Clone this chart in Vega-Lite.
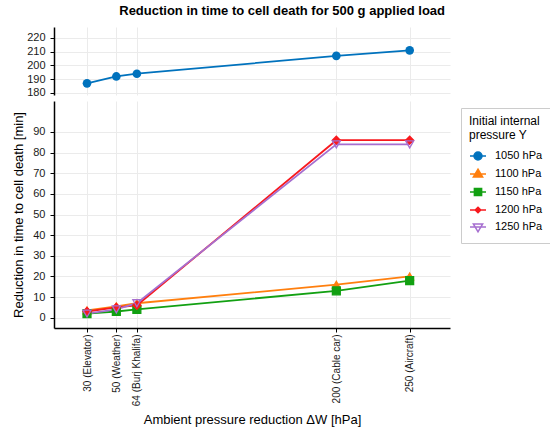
{
  "$schema": "https://vega.github.io/schema/vega-lite/v6.json",
  "background": "white",
  "padding": {"left": 12, "top": 5, "right": 5, "bottom": 5},
  "title": {"text": "Reduction in time to cell death for 500 g applied load", "fontSize": 13, "fontWeight": "bold", "anchor": "middle", "color": "black", "offset": 9},
  "config": {
    "font": "Liberation Sans",
    "view": {"stroke": null},
    "axis": {"labelColor": "#1a1a1a", "labelFontSize": 11, "tickColor": "black", "domainColor": "black", "domainWidth": 1.5, "tickSize": 4, "gridColor": "#ebebeb", "titleFontWeight": "normal", "titleFontSize": 13, "titleColor": "black"},
    "legend": {"labelFontSize": 11, "titleFontSize": 12, "titleFontWeight": "normal", "labelColor": "black", "titleColor": "black"}
  },
  "datasets": {
    "d": [
      {"x": 30, "p": "1050 hPa", "y": 187},
      {"x": 50, "p": "1050 hPa", "y": 192},
      {"x": 64, "p": "1050 hPa", "y": 194},
      {"x": 200, "p": "1050 hPa", "y": 207},
      {"x": 250, "p": "1050 hPa", "y": 211},
      {"x": 30, "p": "1100 hPa", "y": 3.5},
      {"x": 50, "p": "1100 hPa", "y": 5.5},
      {"x": 64, "p": "1100 hPa", "y": 7},
      {"x": 200, "p": "1100 hPa", "y": 16},
      {"x": 250, "p": "1100 hPa", "y": 20},
      {"x": 30, "p": "1150 hPa", "y": 2},
      {"x": 50, "p": "1150 hPa", "y": 3},
      {"x": 64, "p": "1150 hPa", "y": 4},
      {"x": 200, "p": "1150 hPa", "y": 13},
      {"x": 250, "p": "1150 hPa", "y": 18},
      {"x": 30, "p": "1200 hPa", "y": 3},
      {"x": 50, "p": "1200 hPa", "y": 5},
      {"x": 64, "p": "1200 hPa", "y": 6},
      {"x": 200, "p": "1200 hPa", "y": 86},
      {"x": 250, "p": "1200 hPa", "y": 86},
      {"x": 30, "p": "1250 hPa", "y": 2},
      {"x": 50, "p": "1250 hPa", "y": 4},
      {"x": 64, "p": "1250 hPa", "y": 7},
      {"x": 200, "p": "1250 hPa", "y": 84},
      {"x": 250, "p": "1250 hPa", "y": 84}
    ]
  },
  "data": {"name": "d"},
  "spacing": 3,
  "vconcat": [
    {
      "width": 396,
      "height": 68,
      "transform": [{"filter": "datum.y > 150"}],
      "encoding": {
        "x": {"field": "x", "type": "quantitative", "scale": {"domain": [7.5, 277.5], "nice": false, "zero": false},
          "axis": {"values": [30, 50, 64, 200, 250], "labels": false, "ticks": false, "domain": false, "title": null, "grid": true}},
        "y": {"field": "y", "type": "quantitative", "scale": {"domain": [178.5, 228], "nice": false, "zero": false},
          "axis": {"values": [180, 190, 200, 210, 220], "title": null, "grid": true, "labelPadding": 5}}
      },
      "layer": [
        {"mark": {"type": "line", "color": "#0072BD", "strokeWidth": 1.8}},
        {"mark": {"type": "point", "shape": "circle", "filled": true, "color": "#0072BD", "opacity": 1, "size": 75}}
      ]
    },
    {
      "width": 396,
      "height": 227,
      "transform": [{"filter": "datum.y < 150"}],
      "encoding": {
        "x": {"field": "x", "type": "quantitative", "scale": {"domain": [7.5, 277.5], "nice": false, "zero": false},
          "axis": {"values": [30, 50, 64, 200, 250], "grid": true, "labelAngle": 270, "labelFontSize": 10, "title": "Ambient pressure reduction ΔW [hPa]", "titlePadding": 8,
            "labelExpr": "datum.value == 30 ? '30 (Elevator)' : datum.value == 50 ? '50 (Weather)' : datum.value == 64 ? '64 (Burj Khalifa)' : datum.value == 200 ? '200 (Cable car)' : '250 (Aircraft)'"}},
        "y": {"field": "y", "type": "quantitative", "scale": {"domain": [-5, 105], "nice": false, "zero": false},
          "axis": {"values": [0, 10, 20, 30, 40, 50, 60, 70, 80, 90], "title": "Reduction in time to cell death [min]", "grid": true, "labelPadding": 5, "titlePadding": 7}}
      },
      "resolve": {"scale": {"shape": "independent", "size": "independent", "fill": "independent", "stroke": "independent"}},
      "layer": [
        {
          "mark": {"type": "line", "strokeWidth": 1.8},
          "encoding": {
            "stroke": {"field": "p", "type": "nominal", "legend": null, "scale": {"domain": ["1050 hPa", "1100 hPa", "1150 hPa", "1200 hPa", "1250 hPa"], "range": ["#0072BD", "#FF7F0E", "#12A012", "#F8191E", "#A66FD0"]}}
          }
        },
        {
          "mark": {"type": "point", "opacity": 1, "strokeWidth": 1.3},
          "encoding": {
            "stroke": {"field": "p", "type": "nominal", "legend": null, "scale": {"domain": ["1050 hPa", "1100 hPa", "1150 hPa", "1200 hPa", "1250 hPa"], "range": ["#0072BD", "#FF7F0E", "#12A012", "#F8191E", "#A66FD0"]}},
            "fill": {"field": "p", "type": "nominal", "legend": null, "scale": {"domain": ["1050 hPa", "1100 hPa", "1150 hPa", "1200 hPa", "1250 hPa"], "range": ["#0072BD", "#FF7F0E", "#12A012", "#F8191E", "transparent"]}},
            "shape": {"field": "p", "type": "nominal", "legend": null, "scale": {"domain": ["1050 hPa", "1100 hPa", "1150 hPa", "1200 hPa", "1250 hPa"], "range": ["circle", "triangle-up", "square", "diamond", "triangle-down"]}},
            "size": {"field": "p", "type": "nominal", "legend": null, "scale": {"domain": ["1050 hPa", "1100 hPa", "1150 hPa", "1200 hPa", "1250 hPa"], "range": [60, 65, 50, 30, 60]}}
          }
        },
        {
          "transform": [{"filter": "datum.y > 1000"}],
          "mark": {"type": "point", "opacity": 1, "strokeWidth": 1.5},
          "encoding": {
            "stroke": {"field": "p", "type": "nominal", "scale": {"domain": ["1050 hPa", "1100 hPa", "1150 hPa", "1200 hPa", "1250 hPa"], "range": ["#0072BD", "#FF7F0E", "#12A012", "#F8191E", "#A66FD0"]},
              "legend": {"title": ["Initial internal", "pressure Y"], "orient": "none", "legendX": 407, "legendY": 7, "strokeColor": "#cccccc", "padding": 8, "rowPadding": 2, "symbolStrokeWidth": 1.5, "labelOffset": 8}},
            "fill": {"field": "p", "type": "nominal", "scale": {"domain": ["1050 hPa", "1100 hPa", "1150 hPa", "1200 hPa", "1250 hPa"], "range": ["#0072BD", "#FF7F0E", "#12A012", "#F8191E", "transparent"]}},
            "shape": {"field": "p", "type": "nominal", "scale": {"domain": ["1050 hPa", "1100 hPa", "1150 hPa", "1200 hPa", "1250 hPa"], "range": [
              "M-1,0H1M0.5,0A0.5,0.5 0 1,1 -0.5,0A0.5,0.5 0 1,1 0.5,0Z",
              "M-1,0H1M0,-0.6L0.58,0.38L-0.58,0.38Z",
              "M-1,0H1M-0.45,-0.45H0.45V0.45H-0.45Z",
              "M-1,0H1M0,-0.35L0.35,0L0,0.35L-0.35,0Z",
              "M-1,0H1M-0.58,-0.38H0.58L0,0.6Z"]}},
            "size": {"field": "p", "type": "nominal", "scale": {"domain": ["1050 hPa", "1100 hPa", "1150 hPa", "1200 hPa", "1250 hPa"], "range": [256, 256, 256, 256, 256]}}
          }
        }
      ]
    }
  ]
}
